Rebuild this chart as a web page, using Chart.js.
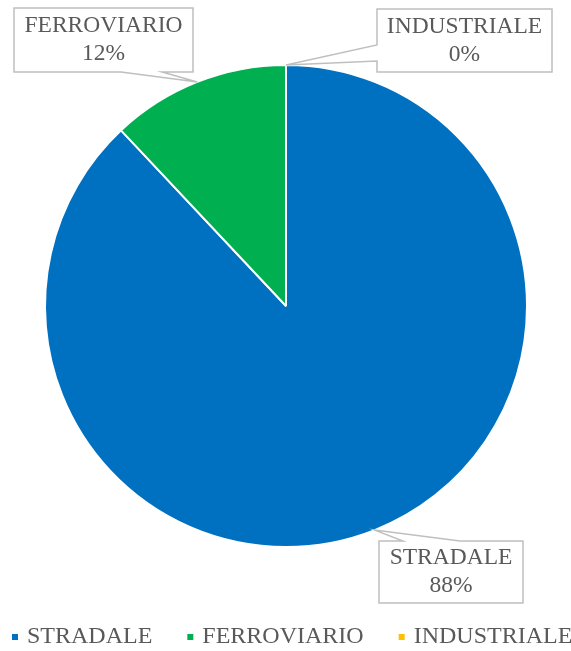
<!DOCTYPE html>
<html lang="it">
<head>
<meta charset="UTF-8">
<title>Ripartizione</title>
<script src="https://cdn.jsdelivr.net/npm/chart.js@4.4.0/dist/chart.umd.min.js"></script>
<style>
  html, body { margin: 0; padding: 0; background: #fff; }
  #torta { display: block; }
</style>
</head>
<body>
<canvas id="torta" width="571" height="651"></canvas>
<script>
const categorie = ['STRADALE', 'FERROVIARIO', 'INDUSTRIALE'];
const valori = [88, 12, 0];

const colori = ['#0070C0', '#00B050', '#FFC000'];
const FONT = '"Liberation Serif", "Times New Roman", serif';
const GRIGIO = '#595959';

// riquadri delle etichette (callout) con il lato da cui parte la punta
const riquadri = [
  { x: 379, y: 541, w: 144, h: 62, lato: 'top', da: 403, a: 460 },
  { x: 14, y: 8, w: 179, h: 64, lato: 'bottom', da: 121, a: 162 },
  { x: 377, y: 9, w: 175, h: 63, lato: 'left', da: 45, a: 61 }
];

function disegnaCallout(ctx, r, tx, ty) {
  const x1 = r.x, y1 = r.y, x2 = r.x + r.w, y2 = r.y + r.h;
  ctx.beginPath();
  ctx.moveTo(x1, y1);
  if (r.lato === 'top') { ctx.lineTo(r.da, y1); ctx.lineTo(tx, ty); ctx.lineTo(r.a, y1); }
  ctx.lineTo(x2, y1);
  ctx.lineTo(x2, y2);
  if (r.lato === 'bottom') { ctx.lineTo(r.a, y2); ctx.lineTo(tx, ty); ctx.lineTo(r.da, y2); }
  ctx.lineTo(x1, y2);
  if (r.lato === 'left') { ctx.lineTo(x1, r.a); ctx.lineTo(tx, ty); ctx.lineTo(x1, r.da); }
  ctx.closePath();
  ctx.fillStyle = '#fff';
  ctx.fill();
  ctx.strokeStyle = '#BFBFBF';
  ctx.lineWidth = 1.5;
  ctx.stroke();
}

const etichette = {
  id: 'etichette',
  afterDatasetsDraw(chart) {
    const ctx = chart.ctx;
    const meta = chart.getDatasetMeta(0);
    const dati = chart.data.datasets[0].data;
    const totale = dati.reduce((s, v) => s + v, 0);
    ctx.save();
    meta.data.forEach((arc, i) => {
      const r = riquadri[i];
      const mid = (arc.startAngle + arc.endAngle) / 2;
      const tx = arc.x + Math.cos(mid) * arc.outerRadius;
      const ty = arc.y + Math.sin(mid) * arc.outerRadius;
      disegnaCallout(ctx, r, tx, ty);
      ctx.fillStyle = GRIGIO;
      ctx.font = '23.5px ' + FONT;
      ctx.textAlign = 'center';
      ctx.textBaseline = 'middle';
      const cx = r.x + r.w / 2, cy = r.y + r.h / 2;
      ctx.fillText(chart.data.labels[i], cx, cy - 14);
      ctx.fillText(Math.round(dati[i] / totale * 100) + '%', cx, cy + 14);
    });
    ctx.restore();
  }
};

// legenda in basso: quadratino + testo
const legenda = {
  id: 'legenda',
  afterDraw(chart) {
    const ctx = chart.ctx;
    const labels = chart.data.labels;
    const bg = chart.data.datasets[0].backgroundColor;
    ctx.save();
    ctx.font = '24px ' + FONT;
    const q = 6, gap = 9, spazio = 35;
    let x = 12;
    const y = 637;
    ctx.textBaseline = 'middle';
    ctx.textAlign = 'left';
    labels.forEach((l, i) => {
      ctx.fillStyle = bg[i];
      ctx.fillRect(x, y - 3, q, q);
      ctx.fillStyle = GRIGIO;
      ctx.fillText(l, x + q + gap, y);
      x += q + gap + ctx.measureText(l).width + spazio;
    });
    ctx.restore();
  }
};

new Chart(document.getElementById('torta'), {
  type: 'pie',
  data: {
    labels: categorie,
    datasets: [{
      data: valori,
      backgroundColor: colori,
      borderColor: '#ffffff',
      borderWidth: 2,
      hoverOffset: 0
    }]
  },
  options: {
    responsive: false,
    animation: false,
    layout: { padding: { top: 64, left: 44, right: 43, bottom: 103 } },
    plugins: {
      legend: { display: false },
      tooltip: { enabled: false }
    }
  },
  plugins: [etichette, legenda]
});
</script>
</body>
</html>
